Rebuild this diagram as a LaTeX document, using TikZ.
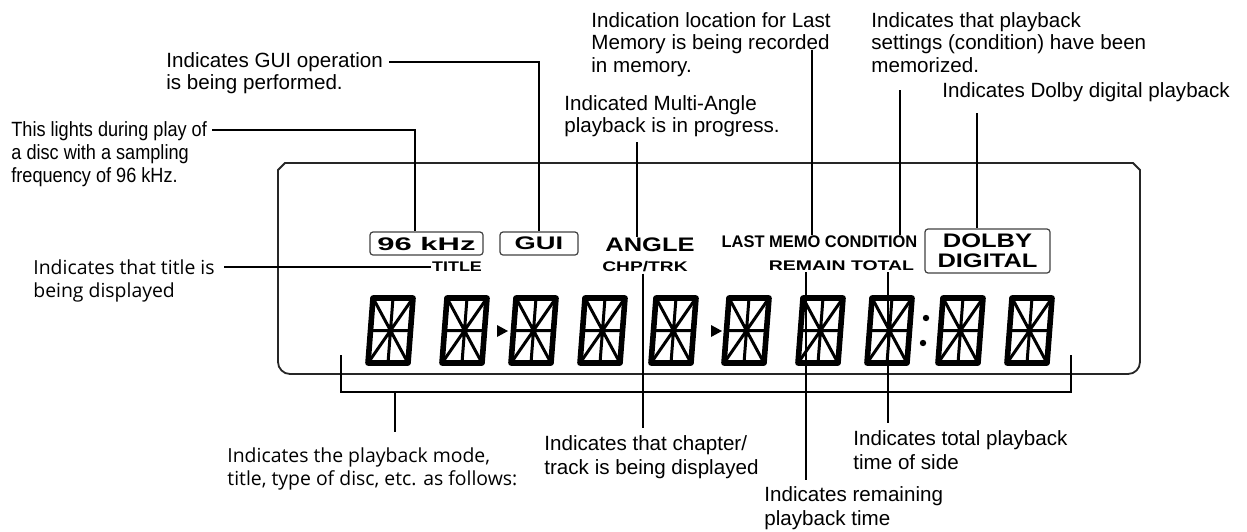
\documentclass[tikz,border=0pt]{standalone}
\usepackage{graphicx}
\usepackage{fontspec}
\setmainfont{Liberation Sans}
\newfontfamily\humfont{Open Sans}
\newfontfamily\narrowfont[FakeStretch=0.88]{Liberation Sans}
\newcommand\lcdtxt[3]{\scalebox{#2}[1]{\fontsize{#1}{#1}\selectfont\bfseries #3}}

\begin{document}
\begin{tikzpicture}[x=0.5pt,y=-0.5pt,
    note/.style={anchor=north west,inner sep=0pt,align=left,
      font=\fontsize{10.3}{11.2}\selectfont},
    lownote/.style={note,font=\fontsize{10.3}{12}\selectfont},
    hnote/.style={note,font=\humfont\fontsize{9.7}{11.8}\selectfont},
    lead/.style={line width=0.9pt},
    hair/.style={line width=0.6pt},
    lcdbox/.style={draw=black!75,line width=0.6pt,rounded corners=1.5pt,inner sep=0pt},
    lcdlbl/.style={inner sep=0.5pt},
    seg/.style={line width=1.5pt}]
  \useasboundingbox (0,0) rectangle (1247,531);

  \node[note,font=\narrowfont\fontsize{10.3}{11.5}\selectfont] (khzNote) at (11,121) {This lights during play of\\a disc with a sampling\\frequency of 96 kHz.};
  \node[note] (guiNote) at (166,52) {Indicates GUI operation\\is being performed.};
  \node[note] (lastNote) at (591,12) {Indication location for Last\\Memory is being recorded\\in memory.};
  \node[note] (angleNote) at (564,95) {Indicated Multi-Angle\\playback is in progress.};
  \node[note] (condNote) at (871,12) {Indicates that playback\\settings (condition) have been\\memorized.};
  \node[note] (dolbyNote) at (942,82) {Indicates Dolby digital playback};
  \node[hnote] (titleNote) at (33,259) {Indicates that title is\\being displayed};
  \node[hnote] (modeNote) at (227,447) {Indicates the playback mode,\\title, type of disc, etc. as follows:};
  \node[lownote] (chapNote) at (544,435) {Indicates that chapter/\\track is being displayed};
  \node[lownote] (totalNote) at (853,430) {Indicates total playback\\time of side};
  \node[lownote] (remainNote) at (764,486) {Indicates remaining\\playback time};

  \draw[line width=0.9pt,black!85] (285,163) -- (1133,163) -- (1140,170) -- (1140,362)
    arc[start angle=0,end angle=90,radius=12] -- (290,374)
    arc[start angle=90,end angle=180,radius=12] -- (278,170) -- cycle;

  \node[lcdbox,minimum width=56.5pt,minimum height=11.5pt] (khz) at (426.5,243.5) {\lcdtxt{9.1}{1.7}{96 kHz}};
  \node[lcdbox,minimum width=39pt,minimum height=11.5pt] (gui) at (539,243.5) {\lcdtxt{9.1}{1.5}{GUI}};
  \node[lcdlbl] (title) at (457,267) {\lcdtxt{7}{1.28}{TITLE}};
  \node[lcdlbl] (angle) at (650,245) {\lcdtxt{9.8}{1.3}{ANGLE}};
  \node[lcdlbl] (chptrk) at (645,267) {\lcdtxt{7}{1.37}{CHP/TRK}};
  \node[lcdlbl] (memo) at (819.5,242) {\lcdtxt{8.4}{0.98}{LAST MEMO CONDITION}};
  \node[lcdlbl] (remain) at (841.5,266) {\lcdtxt{7}{1.39}{REMAIN TOTAL}};
  \node[lcdbox,minimum width=62.5pt,minimum height=22pt,align=center,
    font=\fontsize{9.8}{10}\selectfont] (dolby) at (987.5,251)
    {\lcdtxt{9.8}{1.3}{DOLBY}\\\lcdtxt{9.8}{1.3}{DIGITAL}};

  \foreach \dx in {373,447,516,585,656,729,803,872,943,1012}{
    \begin{scope}[shift={(\dx,298)},xslant=0.077]
      \draw[line width=2.8pt,line join=round] (0,0) rectangle (40,65);
      \draw[seg] (0,32.5) -- (40,32.5) (20,0) -- (20,65) (0,0) -- (40,65) (40,0) -- (0,65);
    \end{scope}
  }
  \fill (497,325) -- (508,331) -- (497,337) -- cycle;
  \fill (711,325) -- (722,331) -- (711,337) -- cycle;
  \fill (926,318) circle[radius=3.2] (923,343) circle[radius=3.2];

  \coordinate (khzTip) at (212,130);
  \coordinate (khzBend) at (415,130);
  \draw[lead] (khzTip) -- (khzBend) -- (khzBend |- khz.north);
  \coordinate (guiTip) at (389,62);
  \draw[lead] (guiTip) -| (gui.north);
  \coordinate (angleTop) at (637,142);
  \draw[lead] (angleTop) -- (angleTop |- angle.north);
  \coordinate (memoTop) at (812,50);
  \draw[hair] (memoTop) -- (memoTop |- memo.north);
  \coordinate (condTop) at (900,90);
  \draw[lead] (condTop) -- (condTop |- memo.north);
  \coordinate (dolbyTop) at (977,113);
  \draw[hair] (dolbyTop) -- (dolbyTop |- dolby.north);
  \coordinate (titleTip) at (224,267);
  \draw[lead] (titleTip) -- (title.west);

  \coordinate (chpFoot) at (643,428);
  \draw[hair] (chptrk.south -| chpFoot) -- (chpFoot);
  \coordinate (remainFoot) at (806,480);
  \draw[hair] (remain.south -| remainFoot) -- (remainFoot);
  \coordinate (totalFoot) at (888,423);
  \draw[lead] (remain.south -| totalFoot) -- (totalFoot);

  \coordinate (brkL) at (341,355);
  \coordinate (brkR) at (1071,355);
  \coordinate (brkBase) at (395,392);
  \coordinate (brkFoot) at (395,432);
  \draw[hair] (brkL) |- (brkBase) -| (brkR);
  \draw[hair] (brkBase) -- (brkFoot);
\end{tikzpicture}
\end{document}
